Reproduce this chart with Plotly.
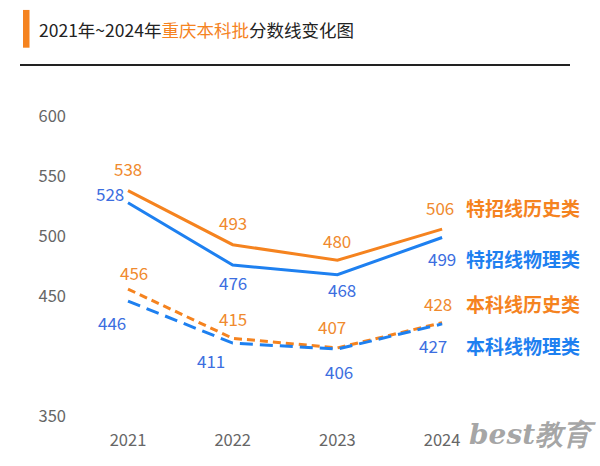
import plotly.graph_objects as go

years = ["2021", "2022", "2023", "2024"]
tz_hist = [538, 493, 480, 506]   # 特招线历史类
tz_phys = [528, 476, 468, 499]   # 特招线物理类
bk_hist = [456, 415, 407, 428]   # 本科线历史类
bk_phys = [446, 411, 406, 427]   # 本科线物理类
y_ticks = [350, 450, 500, 550, 600]

ORANGE = "#F5831F"
BLUE = "#1E80F0"
ORANGE_T = "#F08A2E"
BLUE_T = "#3C6EE0"
FONT = "Noto Sans CJK SC"

xs = list(range(len(years)))
fig = go.Figure()
fig.add_trace(go.Scatter(x=xs, y=tz_hist, mode="lines", line=dict(color=ORANGE, width=3)))
fig.add_trace(go.Scatter(x=xs, y=tz_phys, mode="lines", line=dict(color=BLUE, width=3)))
fig.add_trace(go.Scatter(x=xs, y=bk_hist, mode="lines", line=dict(color=ORANGE, width=3, dash="8px,5px")))
fig.add_trace(go.Scatter(x=xs, y=bk_phys, mode="lines", line=dict(color=BLUE, width=3, dash="13px,7px")))

# value-label offsets (dx, dy in px, dy positive = down)
offs = {
    "tz_hist": [(0, -22), (0, -22), (0, -20), (-2, -22)],
    "tz_phys": [(-18, -9), (0, 17), (5, 15), (0, 21)],
    "bk_hist": [(6, -17), (0, -20), (-5, -21), (-4, -19)],
    "bk_phys": [(-16, 21), (-22, 17), (2, 22), (-9, 22)],
}
series = [("tz_hist", tz_hist, ORANGE_T), ("tz_phys", tz_phys, BLUE_T),
          ("bk_hist", bk_hist, ORANGE_T), ("bk_phys", bk_phys, BLUE_T)]
ann = []
for key, vals, col in series:
    for i, v in enumerate(vals):
        dx, dy = offs[key][i]
        ann.append(dict(x=i, y=v, xref="x", yref="y", text=str(v), showarrow=False,
                        xshift=dx, yshift=-dy, font=dict(size=17, color=col, family=FONT)))

names = [("特招线历史类", tz_hist, ORANGE, -22), ("特招线物理类", tz_phys, BLUE, 21),
         ("本科线历史类", bk_hist, ORANGE, -19), ("本科线物理类", bk_phys, BLUE, 22)]
for text, vals, col, dy in names:
    ann.append(dict(x=3, y=vals[-1], xref="x", yref="y", text="<b>%s</b>" % text, showarrow=False,
                    xanchor="left", xshift=22, yshift=-dy,
                    font=dict(size=19, color=col, family=FONT)))

# title
ann.append(dict(x=37 / 600, y=1 - 30 / 466, xref="paper", yref="paper", xanchor="left", yanchor="middle",
                showarrow=False,
                text="2021年~2024年<span style='color:%s'>重庆本科批</span>分数线变化图" % ORANGE,
                font=dict(size=17.5, color="#222222", family=FONT)))
# watermark
ann.append(dict(x=598 / 600, y=1 - 437 / 466, xref="paper", yref="paper", xanchor="right", yanchor="middle",
                showarrow=False, text="<b><i>best教育</i></b>",
                font=dict(size=28, color="rgba(150,150,150,0.85)", family="DejaVu Serif")))

shapes = [
    dict(type="rect", xref="paper", yref="paper", x0=23 / 600, x1=29.5 / 600,
         y0=1 - 48 / 466, y1=1 - 10 / 466, fillcolor=ORANGE, line=dict(width=0)),
    dict(type="line", xref="paper", yref="paper", x0=20 / 600, x1=570 / 600,
         y0=1 - 65.5 / 466, y1=1 - 65.5 / 466, line=dict(color="#222222", width=2)),
]

fig.update_layout(
    width=600, height=466, margin=dict(l=0, r=0, t=0, b=0),
    paper_bgcolor="white", plot_bgcolor="white", showlegend=False,
    annotations=ann, shapes=shapes,
    xaxis=dict(domain=[70 / 600, 540 / 600], range=[-0.554, 3.935], tickvals=xs, ticktext=years,
               showgrid=False, zeroline=False, showline=False, ticklabelstandoff=4,
               tickfont=dict(size=16.5, color="#666666", family=FONT)),
    yaxis=dict(domain=[1 - 427 / 466, 1 - 95.2 / 466], range=[343.4, 618.05], tickvals=y_ticks,
               showgrid=False, zeroline=False, showline=False, ticklabelstandoff=3,
               tickfont=dict(size=16.5, color="#666666", family=FONT)),
)
fig.write_html("out.html", config={"displayModeBar": False},
               post_script="document.body.style.margin='0';document.body.style.overflow='hidden';")
